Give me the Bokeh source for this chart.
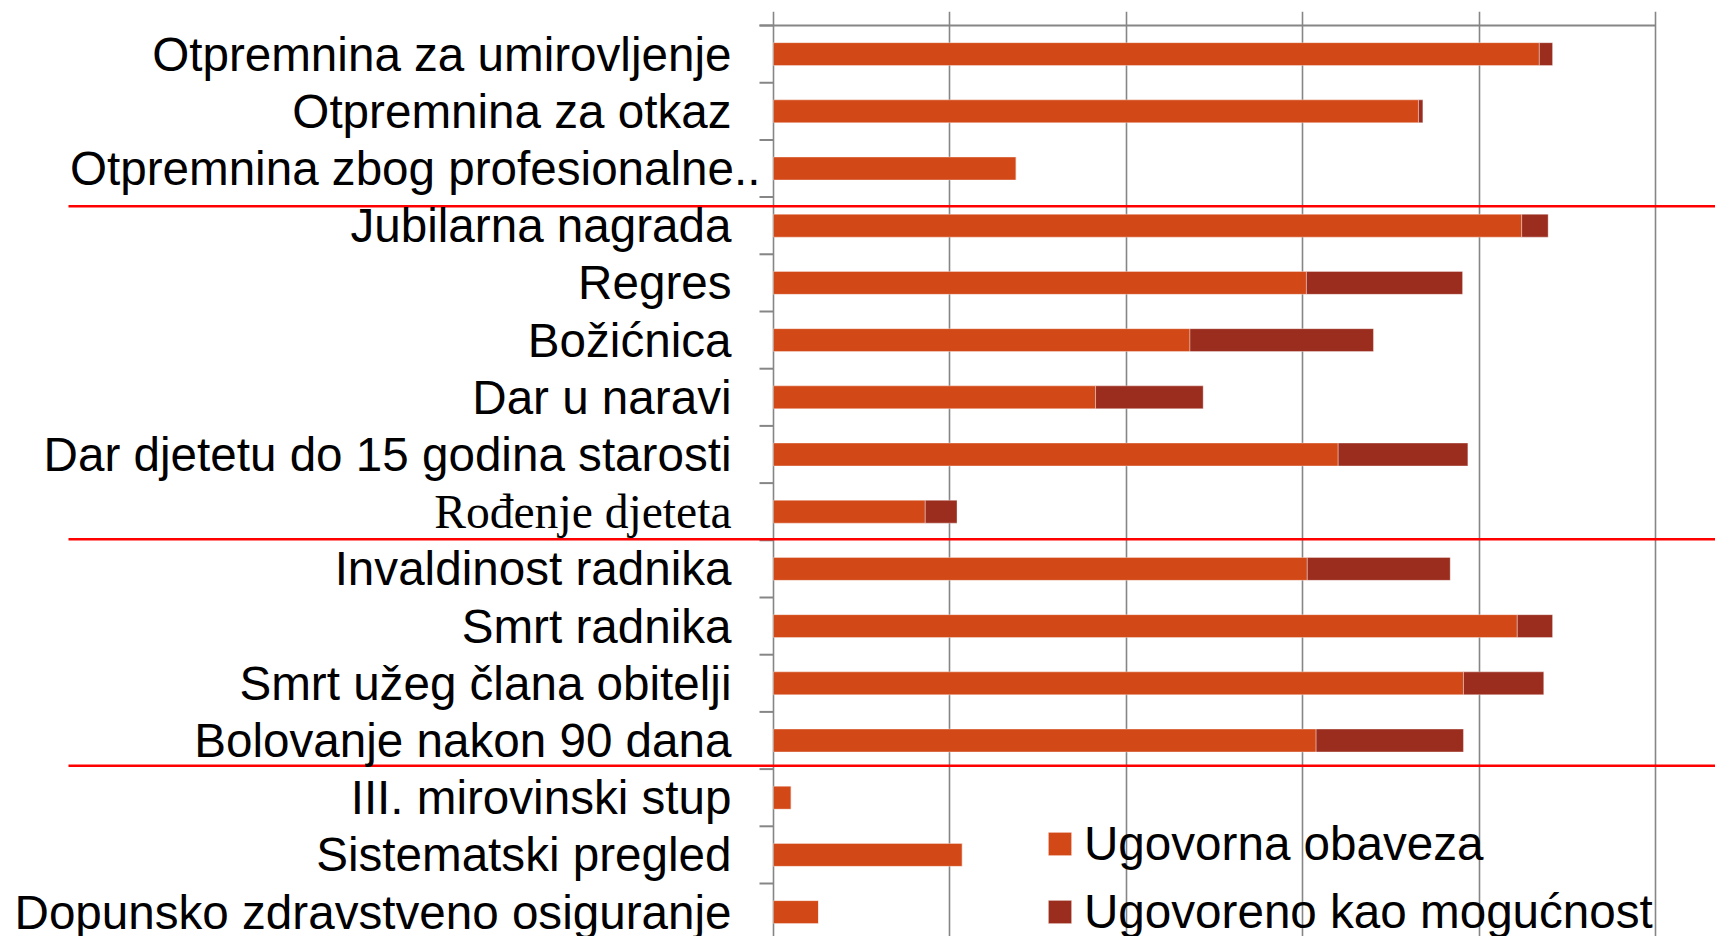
from bokeh.plotting import figure
from bokeh.models import ColumnDataSource, FixedTicker, Range1d
from bokeh.embed import file_html
from bokeh.resources import INLINE

# ---------------- data ----------------
categories = [
    "Otpremnina za umirovljenje",
    "Otpremnina za otkaz",
    "Otpremnina zbog profesionalne..",
    "Jubilarna nagrada",
    "Regres",
    "Božićnica",
    "Dar u naravi",
    "Dar djetetu do 15 godina starosti",
    "Rođenje djeteta",
    "Invaldinost radnika",
    "Smrt radnika",
    "Smrt užeg člana obitelji",
    "Bolovanje nakon 90 dana",
    "III. mirovinski stup",
    "Sistematski pregled",
    "Dopunsko zdravstveno osiguranje",
]
ugovorna_obaveza = [86.8, 73.1, 27.5, 84.8, 60.4, 47.2, 36.5, 64.0, 17.2,
                    60.5, 84.3, 78.2, 61.5, 2.0, 21.4, 5.1]
ugovoreno_kao_mogucnost = [1.5, 0.5, 0.0, 3.0, 17.7, 20.8, 12.2, 14.7, 3.6,
                           16.2, 4.0, 9.1, 16.7, 0.0, 0.0, 0.0]
series_names = ["Ugovorna obaveza", "Ugovoreno kao mogućnost"]
value_ticks = [0, 20, 40, 60, 80, 100]

# ---------------- layout / style ----------------
W, H = 1715, 936
TOP = 11                 # frame top (page px)
AXIS_TOP_PX = 25         # page y of the value-axis line
PX_PER_UNIT = 8.823      # horizontal pixels per value unit
X0_PX = 773              # frame x of value 0
ROW_PX = 57.2            # pixels per category row
GRID = "#868686"
C1, C2 = "#D34817", "#9B2D1F"
FONT = "Liberation Sans"
FS = "47.6px"

x_start = -X0_PX / PX_PER_UNIT
x_end = (W - X0_PX) / PX_PER_UNIT
y_end = -0.5 - (AXIS_TOP_PX - TOP) / ROW_PX
y_start = y_end + (H - TOP) / ROW_PX

p = figure(width=W, height=H, output_backend="svg", toolbar_location=None,
           x_range=Range1d(x_start, x_end), y_range=Range1d(y_start, y_end),
           x_axis_location=None, y_axis_location=None,
           min_border_top=TOP, min_border_left=0, min_border_right=0,
           min_border_bottom=0)
p.outline_line_color = None
p.background_fill_color = "white"
p.border_fill_color = "white"

p.xgrid.ticker = FixedTicker(ticks=value_ticks)
p.xgrid.grid_line_color = GRID
p.xgrid.grid_line_width = 1.6
p.ygrid.visible = False

idx = list(range(len(categories)))
src = ColumnDataSource(dict(y=idx, a=ugovorna_obaveza, b=ugovoreno_kao_mogucnost))
p.hbar_stack(["a", "b"], y="y", height=0.4, color=[C1, C2], source=src,
             line_color="white", line_alpha=0.35, line_width=1,
             legend_label=series_names)

# value-axis line (top) and category boundary ticks
tick_len = 14 / PX_PER_UNIT
p.segment(x0=[-tick_len], x1=[max(value_ticks)], y0=[-0.5], y1=[-0.5],
          line_color=GRID, line_width=2)
bounds_y = [i - 0.5 for i in range(len(categories) + 1)]
p.segment(x0=[-tick_len] * len(bounds_y), x1=[0] * len(bounds_y),
          y0=bounds_y, y1=bounds_y, line_color=GRID, line_width=2)

# red group separators
sep_y = [2.66, 8.48, 12.44]
sep_x0 = (68 - X0_PX) / PX_PER_UNIT
p.segment(x0=[sep_x0] * 3, x1=[x_end + 5] * 3, y0=sep_y, y1=sep_y,
          line_color="#FF0000", line_width=2.5)

# category labels
fonts = ["Liberation Serif" if c == "Rođenje djeteta" else FONT for c in categories]
xoffs = [-13 if c.endswith("..") else -42 for c in categories]
lab = ColumnDataSource(dict(x=[0] * len(categories), y=idx, text=categories,
                            font=fonts, xoff=xoffs))
p.text(x="x", y="y", text="text", source=lab, text_font="font",
       text_font_size=FS, text_align="right", text_baseline="middle",
       x_offset="xoff", text_color="black")

lg = p.legend[0]
lg.location = (1045, -3)
lg.orientation = "vertical"
lg.glyph_width = 29
lg.glyph_height = 29
lg.label_standoff = 10
lg.spacing = 13
lg.padding = 0
lg.margin = 0
lg.label_text_font = FONT
lg.label_text_font_size = FS
lg.label_text_color = "black"
lg.background_fill_alpha = 0
lg.border_line_alpha = 0

open("out.html", "w").write(file_html(p, INLINE))
